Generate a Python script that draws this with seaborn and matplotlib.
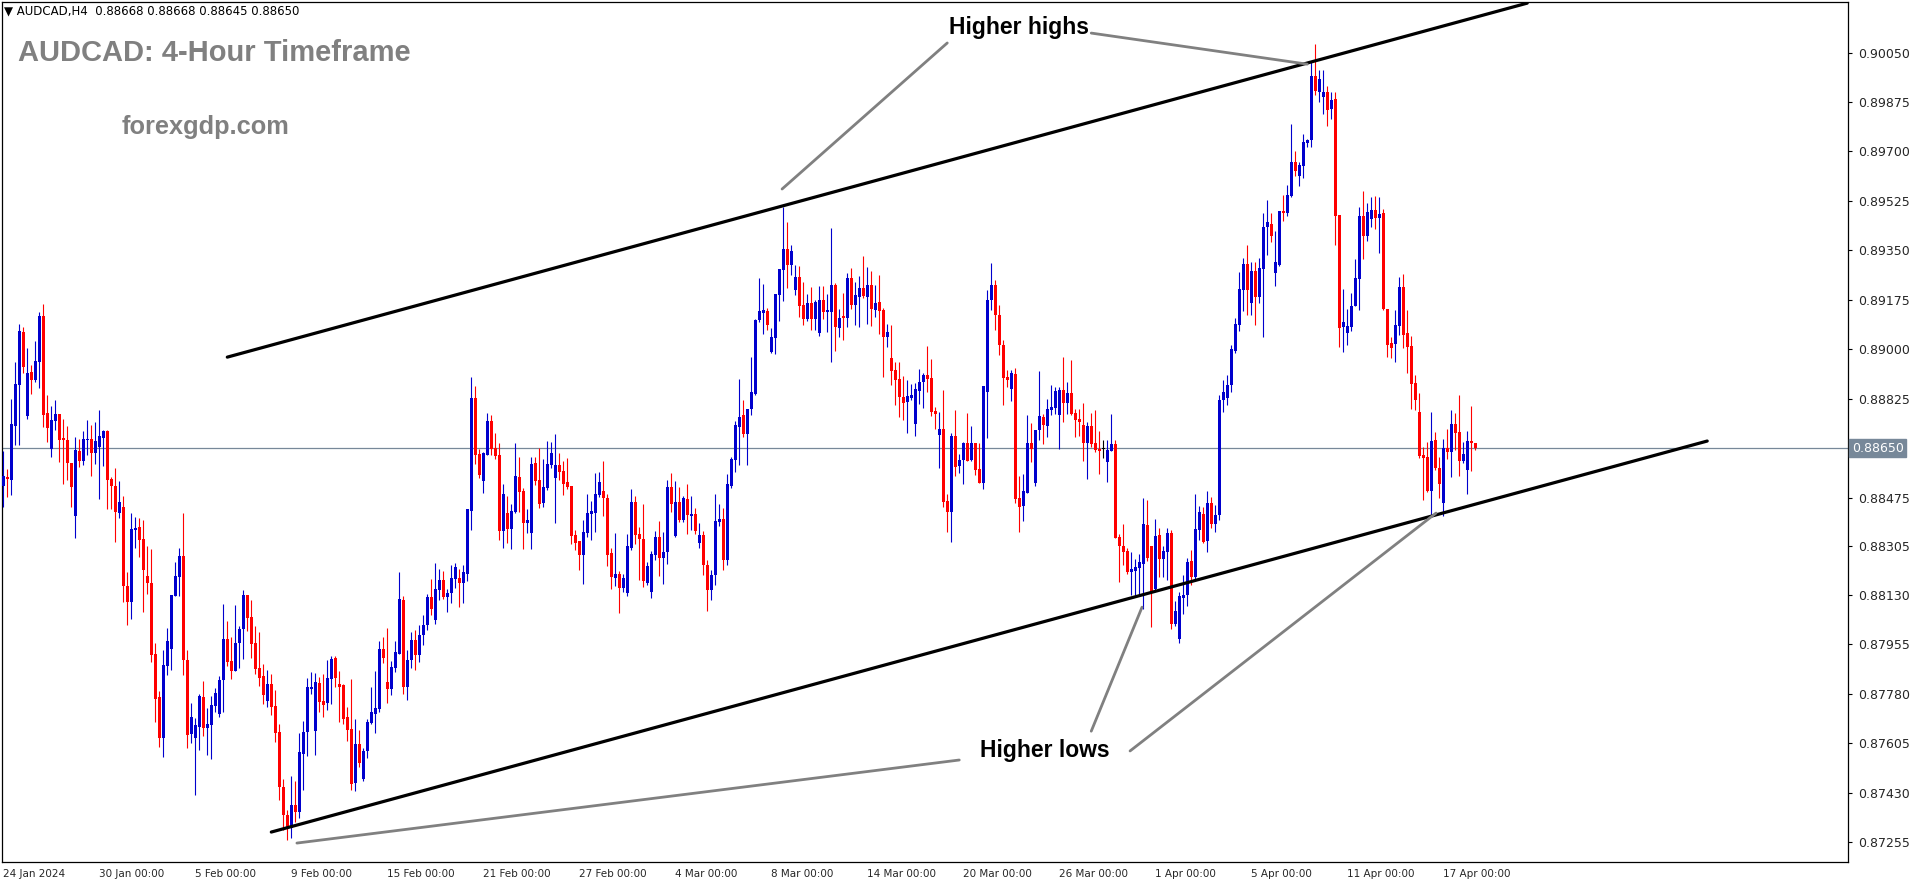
import matplotlib
matplotlib.use("Agg")
import matplotlib.pyplot as plt
import matplotlib.transforms as mtransforms
import numpy as np
import pandas as pd
import seaborn as sns

# AUDCAD H4 candles, 24 Jan 2024 00:00 -> 17 Apr 2024
opens = [
    0.88515, 0.88547, 0.88536, 0.88728, 0.88873, 0.89060, 0.88763, 0.88919, 0.88890, 0.88954,
    0.89117, 0.88774, 0.88646, 0.88745, 0.88770, 0.88685, 0.88678, 0.88597, 0.88409, 0.88639,
    0.88604, 0.88678, 0.88682, 0.88632, 0.88653, 0.88685, 0.88710, 0.88540, 0.88515, 0.88420,
    0.88441, 0.88161, 0.88105, 0.88360, 0.88370, 0.88328, 0.88197, 0.88172, 0.87921, 0.87768,
    0.87623, 0.87878, 0.87938, 0.88126, 0.88193, 0.88268, 0.87899, 0.87637, 0.87623, 0.87662,
    0.87768, 0.87659, 0.87669, 0.87737, 0.87708, 0.87829, 0.87974, 0.87896, 0.87861, 0.87960,
    0.88009, 0.88130, 0.88052, 0.87960, 0.87871, 0.87843, 0.87754, 0.87814, 0.87737, 0.87645,
    0.87450, 0.87351, 0.87305, 0.87386, 0.87361, 0.87567, 0.87645, 0.87797, 0.87648, 0.87818,
    0.87754, 0.87747, 0.87832, 0.87907, 0.87814, 0.87811, 0.87698, 0.87655, 0.87464, 0.87602,
    0.87478, 0.87577, 0.87676, 0.87708, 0.87726, 0.87938, 0.87822, 0.87797, 0.87871, 0.87921,
    0.88112, 0.87804, 0.87900, 0.87970, 0.87917, 0.87988, 0.88024, 0.88123, 0.88041, 0.88147,
    0.88183, 0.88123, 0.88137, 0.88186, 0.88190, 0.88172, 0.88204, 0.88427, 0.88827, 0.88629,
    0.88533, 0.88625, 0.88746, 0.88650, 0.88625, 0.88356, 0.88420, 0.88363, 0.88424, 0.88547,
    0.88498, 0.88385, 0.88349, 0.88597, 0.88537, 0.88455, 0.88508, 0.88590, 0.88544, 0.88590,
    0.88568, 0.88529, 0.88515, 0.88342, 0.88321, 0.88271, 0.88349, 0.88416, 0.88420, 0.88483,
    0.88497, 0.88473, 0.88278, 0.88190, 0.88204, 0.88154, 0.88136, 0.88296, 0.88459, 0.88345,
    0.88328, 0.88172, 0.88140, 0.88271, 0.88335, 0.88260, 0.88282, 0.88512, 0.88339, 0.88459,
    0.88395, 0.88470, 0.88409, 0.88416, 0.88314, 0.88342, 0.88236, 0.88147, 0.88201, 0.88388,
    0.88399, 0.88254, 0.88516, 0.88608, 0.88724, 0.88767, 0.88700, 0.88788, 0.88841, 0.89103,
    0.89128, 0.89135, 0.88990, 0.89040, 0.89192, 0.89280, 0.89355, 0.89298, 0.89209, 0.89255,
    0.89156, 0.89107, 0.89163, 0.89107, 0.89057, 0.89174, 0.89132, 0.89132, 0.89227, 0.89075,
    0.89117, 0.89110, 0.89252, 0.89156, 0.89185, 0.89217, 0.89185, 0.89227, 0.89139, 0.89167,
    0.89139, 0.89043, 0.88969, 0.88926, 0.88894, 0.88831, 0.88813, 0.88827, 0.88735, 0.88852,
    0.88884, 0.88909, 0.88898, 0.88781, 0.88696, 0.88717, 0.88463, 0.88424, 0.88693, 0.88587,
    0.88608, 0.88668, 0.88608, 0.88668, 0.88576, 0.88527, 0.88849, 0.89174, 0.89227, 0.89121,
    0.89015, 0.88902, 0.88859, 0.88912, 0.88474, 0.88445, 0.88491, 0.88668, 0.88527, 0.88714,
    0.88760, 0.88728, 0.88785, 0.88792, 0.88767, 0.88856, 0.88810, 0.88845, 0.88774, 0.88753,
    0.88732, 0.88667, 0.88728, 0.88667, 0.88647, 0.88647, 0.88602, 0.88640, 0.88663, 0.88334,
    0.88305, 0.88285, 0.88212, 0.88216, 0.88224, 0.88240, 0.88377, 0.88303, 0.88151, 0.88341,
    0.88259, 0.88282, 0.88350, 0.88028, 0.87973, 0.88121, 0.88129, 0.88249, 0.88192, 0.88360,
    0.88418, 0.88320, 0.88454, 0.88380, 0.88413, 0.88820, 0.88827, 0.88873, 0.88994, 0.89086,
    0.89210, 0.89302, 0.89164, 0.89277, 0.89185, 0.89284, 0.89433, 0.89443, 0.89270, 0.89298,
    0.89489, 0.89482, 0.89542, 0.89663, 0.89613, 0.89649, 0.89730, 0.89741, 0.89967, 0.89911,
    0.89893, 0.89911, 0.89850, 0.89886, 0.89475, 0.89079, 0.89057, 0.89078, 0.89153, 0.89248,
    0.89471, 0.89400, 0.89461, 0.89492, 0.89464, 0.89482, 0.89142, 0.89022, 0.89018, 0.89082,
    0.89220, 0.89057, 0.89011, 0.88880, 0.88777, 0.88625, 0.88618, 0.88498, 0.88678, 0.88579,
    0.88455, 0.88650, 0.88636, 0.88735, 0.88707, 0.88604, 0.88572, 0.88675, 0.88668,
]
highs = [
    0.88639, 0.88575, 0.88823, 0.88954, 0.89089, 0.89078, 0.89004, 0.88944, 0.89029, 0.89131,
    0.89159, 0.88837, 0.88798, 0.88820, 0.88770, 0.88752, 0.88728, 0.88597, 0.88689, 0.88682,
    0.88710, 0.88749, 0.88731, 0.88742, 0.88784, 0.88713, 0.88713, 0.88547, 0.88579, 0.88533,
    0.88480, 0.88211, 0.88420, 0.88407, 0.88401, 0.88395, 0.88303, 0.88292, 0.87960, 0.87790,
    0.87935, 0.88013, 0.88130, 0.88246, 0.88296, 0.88419, 0.87935, 0.87747, 0.87694, 0.87779,
    0.87825, 0.87730, 0.87772, 0.87800, 0.87843, 0.88098, 0.88038, 0.87981, 0.88094, 0.88020,
    0.88147, 0.88130, 0.88112, 0.88020, 0.87999, 0.87885, 0.87864, 0.87850, 0.87793, 0.87673,
    0.87478, 0.87369, 0.87489, 0.87471, 0.87641, 0.87684, 0.87836, 0.87857, 0.87853, 0.87839,
    0.87850, 0.87899, 0.87914, 0.87914, 0.87860, 0.87814, 0.87733, 0.87832, 0.87691, 0.87652,
    0.87588, 0.87691, 0.87804, 0.87860, 0.87967, 0.87981, 0.88013, 0.87896, 0.87967, 0.88211,
    0.88126, 0.87935, 0.87999, 0.88006, 0.88024, 0.88059, 0.88133, 0.88186, 0.88243, 0.88222,
    0.88215, 0.88151, 0.88236, 0.88243, 0.88222, 0.88236, 0.88434, 0.88901, 0.88870, 0.88647,
    0.88636, 0.88774, 0.88767, 0.88703, 0.88668, 0.88523, 0.88480, 0.88452, 0.88668, 0.88618,
    0.88509, 0.88434, 0.88618, 0.88618, 0.88650, 0.88611, 0.88675, 0.88671, 0.88699, 0.88632,
    0.88604, 0.88614, 0.88515, 0.88359, 0.88321, 0.88395, 0.88487, 0.88462, 0.88561, 0.88565,
    0.88604, 0.88487, 0.88296, 0.88349, 0.88214, 0.88204, 0.88345, 0.88505, 0.88480, 0.88370,
    0.88451, 0.88246, 0.88285, 0.88356, 0.88391, 0.88352, 0.88536, 0.88561, 0.88533, 0.88512,
    0.88480, 0.88523, 0.88480, 0.88438, 0.88385, 0.88356, 0.88254, 0.88218, 0.88487, 0.88452,
    0.88438, 0.88558, 0.88618, 0.88746, 0.88894, 0.88820, 0.88788, 0.88972, 0.89107, 0.89252,
    0.89231, 0.89146, 0.89075, 0.89195, 0.89284, 0.89503, 0.89450, 0.89369, 0.89298, 0.89294,
    0.89238, 0.89195, 0.89220, 0.89174, 0.89224, 0.89224, 0.89195, 0.89430, 0.89234, 0.89142,
    0.89199, 0.89270, 0.89287, 0.89238, 0.89259, 0.89330, 0.89291, 0.89277, 0.89227, 0.89263,
    0.89146, 0.89089, 0.89086, 0.88955, 0.88955, 0.88905, 0.88891, 0.88877, 0.88880, 0.88930,
    0.88916, 0.89011, 0.88965, 0.88795, 0.88778, 0.88855, 0.88488, 0.88704, 0.88785, 0.88629,
    0.88672, 0.88774, 0.88728, 0.88668, 0.88668, 0.88870, 0.89209, 0.89305, 0.89245, 0.89156,
    0.89032, 0.88927, 0.88927, 0.88934, 0.88551, 0.88558, 0.88767, 0.88739, 0.88714, 0.88923,
    0.88771, 0.88824, 0.88874, 0.88866, 0.88866, 0.88974, 0.88884, 0.88962, 0.88789, 0.88789,
    0.88810, 0.88744, 0.88773, 0.88785, 0.88712, 0.88679, 0.88679, 0.88770, 0.88679, 0.88346,
    0.88380, 0.88297, 0.88282, 0.88257, 0.88274, 0.88472, 0.88465, 0.88303, 0.88398, 0.88368,
    0.88305, 0.88368, 0.88360, 0.88110, 0.88139, 0.88201, 0.88262, 0.88288, 0.88487, 0.88444,
    0.88441, 0.88497, 0.88478, 0.88448, 0.88838, 0.88891, 0.88909, 0.89015, 0.89111, 0.89273,
    0.89323, 0.89369, 0.89309, 0.89309, 0.89323, 0.89482, 0.89528, 0.89482, 0.89419, 0.89489,
    0.89546, 0.89581, 0.89797, 0.89702, 0.89663, 0.89762, 0.89744, 0.90020, 0.90080, 0.89988,
    0.89988, 0.89932, 0.89911, 0.89911, 0.89475, 0.89213, 0.89142, 0.89199, 0.89319, 0.89503,
    0.89560, 0.89517, 0.89538, 0.89542, 0.89538, 0.89496, 0.89142, 0.89043, 0.89138, 0.89255,
    0.89266, 0.89138, 0.89046, 0.88908, 0.88845, 0.88653, 0.88671, 0.88777, 0.88707, 0.88618,
    0.88682, 0.88717, 0.88784, 0.88774, 0.88838, 0.88671, 0.88710, 0.88799, 0.88668,
]
lows = [
    0.88442, 0.88477, 0.88483, 0.88660, 0.88660, 0.88915, 0.88752, 0.88841, 0.88883, 0.88862,
    0.88724, 0.88671, 0.88618, 0.88713, 0.88600, 0.88522, 0.88536, 0.88441, 0.88331, 0.88582,
    0.88590, 0.88625, 0.88551, 0.88593, 0.88469, 0.88586, 0.88434, 0.88434, 0.88317, 0.88402,
    0.88105, 0.88023, 0.88045, 0.88296, 0.88264, 0.88069, 0.88133, 0.87892, 0.87680, 0.87591,
    0.87556, 0.87846, 0.87864, 0.88126, 0.88126, 0.87846, 0.87588, 0.87606, 0.87422, 0.87581,
    0.87630, 0.87563, 0.87549, 0.87715, 0.87698, 0.87715, 0.87878, 0.87832, 0.87861, 0.87871,
    0.87903, 0.88002, 0.87907, 0.87850, 0.87807, 0.87744, 0.87733, 0.87705, 0.87609, 0.87404,
    0.87298, 0.87262, 0.87270, 0.87326, 0.87340, 0.87439, 0.87560, 0.87781, 0.87563, 0.87715,
    0.87698, 0.87722, 0.87744, 0.87804, 0.87680, 0.87673, 0.87613, 0.87439, 0.87437, 0.87521,
    0.87471, 0.87553, 0.87673, 0.87641, 0.87715, 0.87889, 0.87747, 0.87776, 0.87857, 0.87921,
    0.87779, 0.87758, 0.87871, 0.87864, 0.87893, 0.87953, 0.88006, 0.88059, 0.88029, 0.88112,
    0.88116, 0.88070, 0.88101, 0.88155, 0.88087, 0.88101, 0.88179, 0.88360, 0.88593, 0.88544,
    0.88491, 0.88625, 0.88625, 0.88611, 0.88324, 0.88296, 0.88314, 0.88293, 0.88420, 0.88424,
    0.88293, 0.88349, 0.88293, 0.88519, 0.88438, 0.88441, 0.88501, 0.88579, 0.88384, 0.88536,
    0.88483, 0.88505, 0.88310, 0.88289, 0.88218, 0.88168, 0.88335, 0.88324, 0.88352, 0.88476,
    0.88409, 0.88232, 0.88151, 0.88161, 0.88066, 0.88140, 0.88126, 0.88289, 0.88310, 0.88182,
    0.88158, 0.88165, 0.88119, 0.88253, 0.88197, 0.88168, 0.88239, 0.88423, 0.88335, 0.88388,
    0.88388, 0.88346, 0.88360, 0.88346, 0.88296, 0.88201, 0.88073, 0.88112, 0.88165, 0.88374,
    0.88218, 0.88236, 0.88509, 0.88565, 0.88590, 0.88689, 0.88590, 0.88767, 0.88838, 0.89096,
    0.89054, 0.89068, 0.88986, 0.88983, 0.89100, 0.89171, 0.89217, 0.89263, 0.89192, 0.89114,
    0.89086, 0.89100, 0.89068, 0.89068, 0.89047, 0.89107, 0.89061, 0.88955, 0.88994, 0.89043,
    0.89032, 0.89078, 0.89142, 0.89086, 0.89078, 0.89181, 0.89089, 0.89082, 0.89114, 0.89054,
    0.88901, 0.89008, 0.88873, 0.88802, 0.88760, 0.88749, 0.88703, 0.88820, 0.88693, 0.88806,
    0.88792, 0.88848, 0.88763, 0.88717, 0.88579, 0.88441, 0.88353, 0.88318, 0.88551, 0.88562,
    0.88523, 0.88604, 0.88604, 0.88555, 0.88527, 0.88505, 0.88686, 0.89139, 0.89068, 0.88979,
    0.88803, 0.88866, 0.88817, 0.88456, 0.88353, 0.88392, 0.88491, 0.88601, 0.88516, 0.88679,
    0.88665, 0.88689, 0.88767, 0.88771, 0.88647, 0.88743, 0.88771, 0.88767, 0.88689, 0.88692,
    0.88604, 0.88541, 0.88655, 0.88637, 0.88557, 0.88614, 0.88529, 0.88639, 0.88331, 0.88175,
    0.88238, 0.88204, 0.88129, 0.88129, 0.88129, 0.88082, 0.88251, 0.88018, 0.88143, 0.88194,
    0.88192, 0.88183, 0.88010, 0.88021, 0.87960, 0.88064, 0.88091, 0.88165, 0.88186, 0.88323,
    0.88315, 0.88282, 0.88366, 0.88353, 0.88395, 0.88778, 0.88802, 0.88848, 0.88987, 0.89065,
    0.89135, 0.89121, 0.89121, 0.89086, 0.89164, 0.89043, 0.89334, 0.89380, 0.89224, 0.89295,
    0.89454, 0.89472, 0.89539, 0.89613, 0.89578, 0.89606, 0.89717, 0.89716, 0.89900, 0.89875,
    0.89833, 0.89790, 0.89815, 0.89369, 0.89008, 0.88990, 0.89015, 0.89064, 0.89153, 0.89138,
    0.89319, 0.89383, 0.89432, 0.89425, 0.89340, 0.89138, 0.88972, 0.88969, 0.88954, 0.89050,
    0.89004, 0.88915, 0.88788, 0.88784, 0.88615, 0.88466, 0.88494, 0.88413, 0.88572, 0.88473,
    0.88409, 0.88611, 0.88547, 0.88643, 0.88551, 0.88597, 0.88487, 0.88569, 0.88645,
]
closes = [
    0.88551, 0.88540, 0.88735, 0.88876, 0.89064, 0.88936, 0.88915, 0.88890, 0.88958, 0.89117,
    0.88767, 0.88721, 0.88749, 0.88770, 0.88678, 0.88678, 0.88597, 0.88512, 0.88643, 0.88604,
    0.88682, 0.88682, 0.88632, 0.88674, 0.88692, 0.88710, 0.88536, 0.88515, 0.88423, 0.88459,
    0.88161, 0.88105, 0.88363, 0.88367, 0.88324, 0.88218, 0.88172, 0.87917, 0.87761, 0.87623,
    0.87882, 0.87967, 0.88130, 0.88197, 0.88268, 0.87899, 0.87634, 0.87698, 0.87669, 0.87772,
    0.87659, 0.87673, 0.87740, 0.87783, 0.87829, 0.87974, 0.87892, 0.87861, 0.87960, 0.88009,
    0.88130, 0.88048, 0.87956, 0.87868, 0.87836, 0.87776, 0.87814, 0.87733, 0.87641, 0.87450,
    0.87351, 0.87305, 0.87386, 0.87361, 0.87574, 0.87645, 0.87804, 0.87804, 0.87822, 0.87751,
    0.87740, 0.87836, 0.87903, 0.87836, 0.87804, 0.87691, 0.87652, 0.87460, 0.87602, 0.87535,
    0.87577, 0.87680, 0.87715, 0.87730, 0.87938, 0.87907, 0.87797, 0.87875, 0.87928, 0.88115,
    0.87804, 0.87900, 0.87970, 0.87917, 0.87988, 0.88024, 0.88123, 0.88080, 0.88151, 0.88183,
    0.88123, 0.88137, 0.88190, 0.88229, 0.88172, 0.88211, 0.88434, 0.88827, 0.88625, 0.88555,
    0.88632, 0.88746, 0.88647, 0.88622, 0.88356, 0.88487, 0.88363, 0.88427, 0.88551, 0.88494,
    0.88385, 0.88395, 0.88593, 0.88533, 0.88452, 0.88512, 0.88593, 0.88632, 0.88590, 0.88565,
    0.88522, 0.88512, 0.88338, 0.88313, 0.88271, 0.88352, 0.88420, 0.88427, 0.88487, 0.88529,
    0.88473, 0.88271, 0.88193, 0.88204, 0.88154, 0.88190, 0.88303, 0.88459, 0.88342, 0.88328,
    0.88179, 0.88232, 0.88274, 0.88335, 0.88260, 0.88282, 0.88512, 0.88451, 0.88459, 0.88395,
    0.88473, 0.88413, 0.88416, 0.88356, 0.88342, 0.88236, 0.88147, 0.88201, 0.88392, 0.88399,
    0.88254, 0.88523, 0.88611, 0.88732, 0.88760, 0.88700, 0.88788, 0.88848, 0.89103, 0.89135,
    0.89139, 0.89086, 0.89043, 0.89195, 0.89284, 0.89355, 0.89298, 0.89348, 0.89255, 0.89153,
    0.89107, 0.89163, 0.89107, 0.89167, 0.89174, 0.89132, 0.89139, 0.89227, 0.89078, 0.89110,
    0.89110, 0.89252, 0.89156, 0.89192, 0.89217, 0.89188, 0.89227, 0.89142, 0.89163, 0.89135,
    0.89043, 0.89061, 0.88923, 0.88891, 0.88831, 0.88809, 0.88834, 0.88838, 0.88859, 0.88884,
    0.88909, 0.88894, 0.88778, 0.88770, 0.88717, 0.88459, 0.88424, 0.88693, 0.88583, 0.88608,
    0.88668, 0.88604, 0.88668, 0.88573, 0.88527, 0.88870, 0.89174, 0.89227, 0.89121, 0.89015,
    0.88898, 0.88891, 0.88916, 0.88470, 0.88442, 0.88498, 0.88668, 0.88647, 0.88714, 0.88764,
    0.88732, 0.88789, 0.88796, 0.88852, 0.88856, 0.88810, 0.88845, 0.88771, 0.88750, 0.88744,
    0.88667, 0.88728, 0.88663, 0.88643, 0.88639, 0.88647, 0.88643, 0.88663, 0.88333, 0.88304,
    0.88282, 0.88212, 0.88221, 0.88228, 0.88246, 0.88380, 0.88262, 0.88139, 0.88338, 0.88259,
    0.88285, 0.88350, 0.88028, 0.88075, 0.88125, 0.88129, 0.88246, 0.88194, 0.88362, 0.88425,
    0.88318, 0.88454, 0.88380, 0.88413, 0.88820, 0.88848, 0.88873, 0.89001, 0.89089, 0.89213,
    0.89302, 0.89210, 0.89277, 0.89185, 0.89288, 0.89433, 0.89450, 0.89401, 0.89309, 0.89489,
    0.89482, 0.89546, 0.89663, 0.89631, 0.89652, 0.89734, 0.89741, 0.89967, 0.89914, 0.89957,
    0.89911, 0.89847, 0.89882, 0.89472, 0.89075, 0.89096, 0.89082, 0.89153, 0.89252, 0.89471,
    0.89400, 0.89485, 0.89492, 0.89464, 0.89478, 0.89142, 0.89015, 0.89004, 0.89085, 0.89220,
    0.89050, 0.89007, 0.88876, 0.88820, 0.88622, 0.88615, 0.88498, 0.88675, 0.88579, 0.88522,
    0.88650, 0.88636, 0.88735, 0.88703, 0.88604, 0.88629, 0.88675, 0.88668, 0.88650,
]

# one date label every 24 bars (4 trading days of H4)
date_labels = [
    "24 Jan 2024", "30 Jan 00:00", "5 Feb 00:00", "9 Feb 00:00", "15 Feb 00:00",
    "21 Feb 00:00", "27 Feb 00:00", "4 Mar 00:00", "8 Mar 00:00", "14 Mar 00:00",
    "20 Mar 00:00", "26 Mar 00:00", "1 Apr 00:00", "5 Apr 00:00", "11 Apr 00:00",
    "17 Apr 00:00",
]
price_ticks = [
    0.90050, 0.89875, 0.89700, 0.89525, 0.89350, 0.89175, 0.89000, 0.88825,
    0.88475, 0.88305, 0.88130, 0.87955, 0.87780, 0.87605, 0.87430, 0.87255,
]
current_price = 0.88650
header = "AUDCAD,H4  0.88668 0.88668 0.88645 0.88650"

# channel lines drawn by the analyst: (bar, price) anchors
upper_line_bars = [56, 381]
upper_line_prices = [0.88972, 0.90225]
lower_line_bars = [67, 426]
lower_line_prices = [0.87291, 0.88675]

# pointer lines: (bar, price) from label to touch point
highs_pointers = [((236, 0.90084), (194.7, 0.89567)), ((272, 0.90119), (326, 0.90009))]
lows_pointers = [((239, 0.87546), (73.4, 0.87252)), ((272, 0.87648), (284.7, 0.88087)),
                 ((281.7, 0.87578), (358.2, 0.88420))]

BLUE = "#0000CD"
RED = "#FF0000"

sns.set_style("white")
plt.rcParams["font.family"] = ["DejaVu Sans"]

df = pd.DataFrame({"open": opens, "high": highs, "low": lows, "close": closes})
df["bar"] = np.arange(len(df))
df["color"] = np.where(df["close"] > df["open"], BLUE,
                       np.where(df["close"] < df["open"], RED, "black"))
df["body_lo"] = np.minimum(df["open"], df["close"])
df["body_h"] = np.maximum((df["close"] - df["open"]).abs(), 0.00003)

W, H = 1916, 884
fig = plt.figure(figsize=(W / 100, H / 100), dpi=100)
ax = fig.add_axes([2 / W, 1 - 862 / H, (1848 - 2) / W, (862 - 2) / H])

# candles
ax.vlines(df["bar"], df["low"], df["high"], colors=df["color"], lw=0.8, zorder=3)
ax.bar(df["bar"], df["body_h"], bottom=df["body_lo"], width=0.72,
       color=df["color"], linewidth=0, zorder=4)

# current price line
ax.axhline(current_price, color="#778899", lw=0.9, zorder=2)

# channel
sns.lineplot(x=upper_line_bars, y=upper_line_prices, ax=ax, color="black", lw=2.3, zorder=5)
sns.lineplot(x=lower_line_bars, y=lower_line_prices, ax=ax, color="black", lw=2.3, zorder=5)

for (x0, y0), (x1, y1) in highs_pointers + lows_pointers:
    ax.plot([x0, x1], [y0, y1], color="#808080", lw=2, zorder=6)

ax.text(254, 0.90137, "Higher highs", ha="center", va="center", fontsize=16.5,
        fontweight="bold", family="Liberation Sans", color="black", zorder=7)
ax.text(260.5, 0.87578, "Higher lows", ha="center", va="center", fontsize=16.5,
        fontweight="bold", family="Liberation Sans", color="black", zorder=7)

# axes limits: bar i sits at pixel 3.3 + 4 * i
ax.set_xlim(-0.33, 461.2)
ax.set_ylim(0.87185, 0.90229)

ax.set_xticks(np.arange(len(date_labels)) * 24)
ax.set_xticklabels(date_labels, ha="left", fontsize=7.5)
ax.yaxis.tick_right()
ax.set_yticks(price_ticks)
ax.set_yticklabels([f"{p:.5f}" for p in price_ticks], fontsize=9)
ax.tick_params(axis="both", direction="out", length=3, width=0.8, color="black", pad=2)
ax.tick_params(axis="y", pad=4)
for s in ax.spines.values():
    s.set_color("black")
    s.set_linewidth(0.9)

trans = mtransforms.blended_transform_factory(ax.transAxes, ax.transData)
ax.text(1.002, current_price, f"{current_price:.5f}", transform=trans, ha="left", va="center",
        fontsize=9, color="white",
        bbox=dict(boxstyle="square,pad=0.2", fc="#778899", ec="#778899"))

# titles
fig.text(18 / W, 1 - 53 / H, "AUDCAD: 4-Hour Timeframe", fontsize=21, fontweight="bold",
         family="Liberation Sans", color="#808080", va="center", ha="left")
fig.text(122 / W, 1 - 127 / H, "forexgdp.com", fontsize=18.3, fontweight="bold",
         family="Liberation Sans", color="#808080", va="center", ha="left")
fig.text(4 / W, 1 - 11 / H, "\u25BC " + header, fontsize=8.5, color="black", va="center", ha="left")

fig.savefig("out.png", dpi=100, facecolor="white")
